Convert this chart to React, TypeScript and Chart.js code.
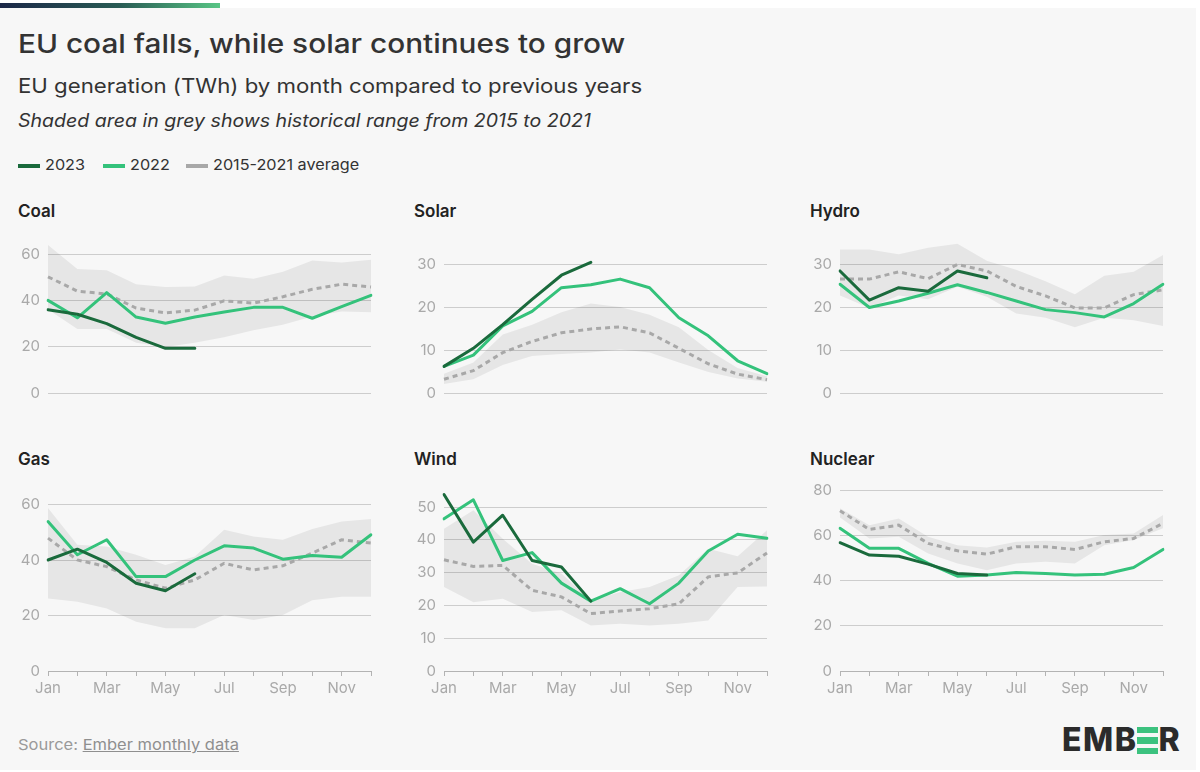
import React, { useEffect, useRef } from "react";
import { Chart, registerables } from "chart.js";

Chart.register(...registerables);

// ---------- DATA ----------
const months = ["Jan", "Feb", "Mar", "Apr", "May", "Jun", "Jul", "Aug", "Sep", "Oct", "Nov", "Dec"];

const coal2023 = [36, 34, 30, 24, 19.3, 19.3];
const coal2022 = [40, 32.5, 43.4, 32.8, 30.1, 32.8, 35, 37, 37, 32.3, 37.3, 42.2];
const coalAvg = [50.2, 44, 42.8, 36.7, 34.6, 35.8, 39.8, 38.8, 41.6, 44.8, 47, 45.8];
const coalHigh = [63.9, 53.6, 53, 47, 45.8, 46, 50.8, 49.4, 52.4, 57.2, 56.4, 57.6];
const coalLow = [36.1, 27.7, 27.7, 21.7, 19.9, 21.7, 24.1, 27.1, 29.5, 33.1, 35.2, 34.9];

const solar2023 = [6.2, 10.4, 15.9, 21.8, 27.4, 30.4];
const solar2022 = [6.2, 8.8, 15.6, 19, 24.5, 25.2, 26.5, 24.5, 17.5, 13.3, 7.5, 4.5];
const solarAvg = [3.2, 5.2, 9.4, 12, 14, 14.9, 15.4, 14, 10.4, 6.8, 4.4, 3.1];
const solarHigh = [4.5, 7.1, 13.6, 15.9, 18.8, 20.8, 20, 18.2, 15.3, 10, 5.8, 3.9];
const solarLow = [2.1, 3.2, 6.5, 8.6, 9.1, 9.4, 10.1, 9.4, 7.1, 4.9, 3.4, 2.6];

const hydro2023 = [28.4, 21.6, 24.5, 23.7, 28.4, 26.8];
const hydro2022 = [25.3, 19.9, 21.4, 23.2, 25.2, 23.4, 21.4, 19.4, 18.7, 17.7, 20.8, 25.3];
const hydroAvg = [26.5, 26.5, 28.2, 26.6, 29.9, 28.4, 24.8, 22.6, 19.8, 19.8, 22.9, 24];
const hydroHigh = [33.4, 33.4, 32.3, 33.8, 34.7, 30.8, 28.7, 26, 23, 27.3, 28.2, 32.1];
const hydroLow = [22.7, 19.8, 22.7, 21.8, 24.7, 22.4, 18.5, 17.5, 15.3, 17.5, 16.9, 15.6];

const gas2023 = [40.1, 44, 39.2, 31.7, 29, 35.1];
const gas2022 = [54, 42, 47.4, 34.1, 34.1, 40.1, 45.2, 44.4, 40.4, 41.7, 41.1, 49.2];
const gasAvg = [48, 40.1, 37.7, 32.9, 29.9, 32.9, 38.9, 36.5, 38, 42.6, 47.4, 46.2];
const gasHigh = [58.9, 45.6, 45, 42, 38.3, 41.4, 51, 48.6, 47.4, 51.3, 54, 54.9];
const gasLow = [26.2, 25, 22.6, 17.8, 15.4, 15.4, 20.2, 18.4, 20.2, 25.6, 26.8, 26.8];

const wind2023 = [53.8, 39.3, 47.5, 33.7, 31.7, 21.3];
const wind2022 = [46.4, 52.2, 33.7, 36.1, 26.8, 21.3, 25.1, 20.5, 26.8, 36.6, 41.7, 40.5];
const windAvg = [33.9, 31.9, 32.2, 24.6, 22.6, 17.5, 18.3, 19, 20.5, 28.7, 29.9, 36];
const windHigh = [43.4, 49, 40.3, 32.7, 29.7, 21.5, 24.1, 25.6, 29.2, 37.3, 35, 42.9];
const windLow = [25.6, 21, 22, 18, 18.5, 13.9, 14.4, 13.9, 14.4, 15.4, 25.6, 25.8];

const nuclear2023 = [57, 51.5, 51, 47.5, 43.3, 42.6];
const nuclear2022 = [63.4, 54.5, 54.5, 47.8, 42.1, 42.6, 43.8, 43.3, 42.6, 43, 46, 54];
const nuclearAvg = [71.2, 62.9, 64.8, 56.7, 53.4, 51.9, 55.2, 55.2, 54, 57.4, 58.9, 65.6];
const nuclearHigh = [72.3, 64.8, 67.8, 59.6, 55.9, 54.9, 57.4, 57.9, 57.4, 60.4, 61.1, 69.3];
const nuclearLow = [68.2, 58.9, 59.6, 52.2, 47.8, 44.8, 47.8, 48.5, 47.8, 55.9, 58.2, 63.4];

// axis settings per panel (max of value axis, tick step)
const coalAxis = [66.1, 20];
const solarAxis = [35.6, 10];
const hydroAxis = [35.6, 10];
const gasAxis = [66.1, 20];
const windAxis = [55.8, 10];
const nuclearAxis = [81.3, 20];

// ---------- STYLE ----------
const FONT = "Inter, 'Noto Sans', sans-serif";
const C2023 = "#1a6a3c";
const C2022 = "#34c27b";
const CAVG = "#a8a8a8";
const SHADE = "rgba(0,0,0,0.065)";
const GRID = "#cdcdcd";
const TICK = "#a9a9a9";

Chart.defaults.font.family = FONT;

type PanelDef = {
  title: string;
  d2023: number[];
  d2022: number[];
  avg: number[];
  hi: number[];
  lo: number[];
  axis: number[];
  col: number;
  row: number;
};

const panels: PanelDef[] = [
  { title: "Coal", d2023: coal2023, d2022: coal2022, avg: coalAvg, hi: coalHigh, lo: coalLow, axis: coalAxis, col: 0, row: 0 },
  { title: "Solar", d2023: solar2023, d2022: solar2022, avg: solarAvg, hi: solarHigh, lo: solarLow, axis: solarAxis, col: 1, row: 0 },
  { title: "Hydro", d2023: hydro2023, d2022: hydro2022, avg: hydroAvg, hi: hydroHigh, lo: hydroLow, axis: hydroAxis, col: 2, row: 0 },
  { title: "Gas", d2023: gas2023, d2022: gas2022, avg: gasAvg, hi: gasHigh, lo: gasLow, axis: gasAxis, col: 0, row: 1 },
  { title: "Wind", d2023: wind2023, d2022: wind2022, avg: windAvg, hi: windHigh, lo: windLow, axis: windAxis, col: 1, row: 1 },
  { title: "Nuclear", d2023: nuclear2023, d2022: nuclear2022, avg: nuclearAvg, hi: nuclearHigh, lo: nuclearLow, axis: nuclearAxis, col: 2, row: 1 },
];

// layout
const AREA_W = 323;
const AREA_H = 183;
const Y_W = 40;
const PAD = 8;
const X_H = 30;
const colLeft = [48, 444, 840];
const rowAreaTop = [240, 488];

function ChartPanel({ p }: { p: PanelDef }) {
  const ref = useRef<HTMLCanvasElement>(null);
  const showX = p.row === 1;
  const w = Y_W + AREA_W + 6;
  const h = PAD + AREA_H + (showX ? X_H : PAD);

  useEffect(() => {
    const [max, step] = p.axis;
    const chart = new Chart(ref.current as HTMLCanvasElement, {
      type: "line",
      data: {
        labels: months,
        datasets: [
          { label: "2023", data: p.d2023, borderColor: C2023, borderWidth: 3, pointRadius: 0, tension: 0, fill: false, borderJoinStyle: "round", borderCapStyle: "round" },
          { label: "2022", data: p.d2022, borderColor: C2022, borderWidth: 3, pointRadius: 0, tension: 0, fill: false, borderJoinStyle: "round", borderCapStyle: "round" },
          { label: "2015-2021 average", data: p.avg, borderColor: CAVG, borderWidth: 3, borderDash: [5, 4], pointRadius: 0, tension: 0, fill: false },
          { label: "max", data: p.hi, borderColor: "rgba(0,0,0,0)", borderWidth: 0, pointRadius: 0, tension: 0, fill: "+1", backgroundColor: SHADE },
          { label: "min", data: p.lo, borderColor: "rgba(0,0,0,0)", borderWidth: 0, pointRadius: 0, tension: 0, fill: false },
        ],
      },
      options: {
        animation: false,
        responsive: false,
        maintainAspectRatio: false,
        devicePixelRatio: 1,
        layout: { padding: { top: PAD, right: 6, left: 0, bottom: showX ? 0 : PAD } },
        plugins: { legend: { display: false }, tooltip: { enabled: false } },
        scales: {
          x: {
            display: showX,
            offset: false,
            grid: { drawOnChartArea: false, drawTicks: true, tickLength: 5, color: "#b3b3b3", lineWidth: 1 },
            border: { display: true, color: "#b3b3b3", width: 1 },
            ticks: {
              autoSkip: false,
              maxRotation: 0,
              padding: 3,
              color: TICK,
              font: { family: FONT, size: 15 },
              callback: (_v: any, i: number) => (i % 2 === 0 ? months[i] : ""),
            },
            afterFit: (s: any) => {
              s.height = X_H;
              s.paddingLeft = 0;
              s.paddingRight = 0;
            },
          },
          y: {
            min: 0,
            max,
            ticks: { stepSize: step, includeBounds: false, padding: 8, color: TICK, font: { family: FONT, size: 15 } },
            grid: { color: GRID, drawTicks: false, lineWidth: 1 },
            border: { display: false },
            afterBuildTicks: (s: any) => {
              s.ticks = s.ticks.filter((t: any) => Math.abs(t.value / step - Math.round(t.value / step)) < 1e-6);
            },
            afterFit: (s: any) => {
              s.width = Y_W;
              s.paddingTop = 0;
              s.paddingBottom = 0;
            },
          },
        },
      } as any,
    });
    return () => chart.destroy();
  }, []);

  return (
    <canvas
      ref={ref}
      width={w}
      height={h}
      style={{
        position: "absolute",
        left: colLeft[p.col] - Y_W,
        top: rowAreaTop[p.row] - PAD,
        width: w,
        height: h,
      }}
    />
  );
}

function Txt(props: { left: number; top: number; size: number; sx?: number; color?: string; weight?: number; italic?: boolean; children: React.ReactNode }) {
  return (
    <div
      style={{
        position: "absolute",
        left: props.left,
        top: props.top,
        fontSize: props.size,
        lineHeight: props.size + "px",
        color: props.color || "#333",
        fontWeight: props.weight || 400,
        fontStyle: props.italic ? "italic" : "normal",
        whiteSpace: "nowrap",
        transform: props.sx ? `scaleX(${props.sx})` : undefined,
        transformOrigin: "0 50%",
      }}
    >
      {props.children}
    </div>
  );
}

function LegendItem({ left, color, label }: { left: number; color: string; label: string }) {
  return (
    <>
      <div style={{ position: "absolute", left, top: 164, width: 22, height: 4, background: color }} />
      <Txt left={left + 27} top={157} size={15} sx={1.08} color="#333">
        {label}
      </Txt>
    </>
  );
}

export default function App() {
  return (
    <div style={{ position: "absolute", left: 0, top: 0, width: 1200, height: 772, background: "#ffffff", fontFamily: FONT, overflow: "hidden" }}>
      <div style={{ position: "absolute", left: 0, top: 8, width: 1196, height: 762, background: "#f7f7f7" }} />
      <div style={{ position: "absolute", left: 0, top: 3, width: 220, height: 5, background: "linear-gradient(90deg, #1b2747 0%, #2a5d55 55%, #58c585 100%)" }} />

      <Txt left={18} top={31} size={26} sx={1.145} color="#333" weight={500}>
        EU coal falls, while solar continues to grow
      </Txt>
      <Txt left={18} top={76} size={20} sx={1.11} color="#333">
        EU generation (TWh) by month compared to previous years
      </Txt>
      <Txt left={18} top={112} size={18} sx={1.085} color="#333" italic>
        Shaded area in grey shows historical range from 2015 to 2021
      </Txt>

      <LegendItem left={18} color={C2023} label="2023" />
      <LegendItem left={103} color={C2022} label="2022" />
      <LegendItem left={186} color={CAVG} label="2015-2021 average" />

      {panels.map((p) => (
        <Txt key={"t" + p.title} left={colLeft[p.col] - 30} top={p.row === 0 ? 203 : 451} size={17} color="#222" weight={600}>
          {p.title}
        </Txt>
      ))}

      {panels.map((p) => (
        <ChartPanel key={p.title} p={p} />
      ))}

      <Txt left={18} top={737} size={15} sx={1.1} color="#9a9a9a">
        Source: <span style={{ textDecoration: "underline", color: "#8f8f8f" }}>Ember monthly data</span>
      </Txt>

      <div
        style={{
          position: "absolute",
          left: 1062,
          top: 724,
          fontSize: 32,
          lineHeight: "32px",
          fontWeight: 800,
          color: "#2b2b2b",
          letterSpacing: 1.5,
          whiteSpace: "nowrap",
        }}
      >
        EMB
        <span
          style={{
            color: "transparent",
            background: "linear-gradient(180deg, transparent 0 17%, #3cc27f 17% 34%, transparent 34% 44%, #3cc27f 44% 61%, transparent 61% 71%, #3cc27f 71% 88%, transparent 88%)",
          }}
        >
          E
        </span>
        R
      </div>
    </div>
  );
}
